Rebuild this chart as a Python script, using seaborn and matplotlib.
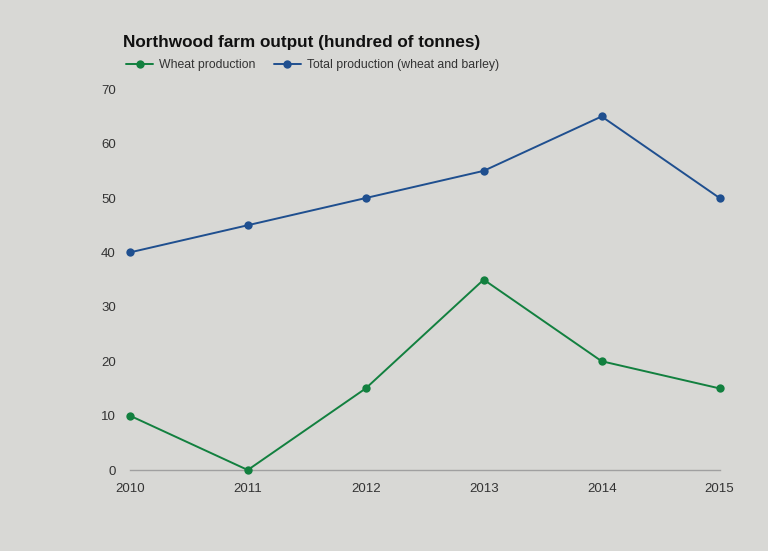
# northwood farm output chart - wheat vs total (wheat + barley)

import pandas as pd
import matplotlib.pyplot as plt
import seaborn as sns

years = [2010, 2011, 2012, 2013, 2014, 2015]
wheat = [10, 0, 15, 35, 20, 15]
total = [40, 45, 50, 55, 65, 50]
series_names = ["Wheat production", "Total production (wheat and barley)"]
y_ticks = [0, 10, 20, 30, 40, 50, 60, 70]

BG = "#d8d8d5"
COLOURS = {series_names[0]: "#12803f", series_names[1]: "#1f4f8f"}


def main():
    df = pd.DataFrame({
        "year": years * 2,
        "value": wheat + total,
        "series": [series_names[0]] * len(years) + [series_names[1]] * len(years),
    })

    sns.set_style("white")
    plt.rcParams["font.family"] = ["Liberation Sans", "DejaVu Sans"]

    fig = plt.figure(figsize=(7.68, 5.51), dpi=100, facecolor=BG)
    ax = fig.add_axes([0.169, 0.147, 0.768, 0.691], facecolor=BG)

    sns.lineplot(data=df, x="year", y="value", hue="series", palette=COLOURS,
                 marker="o", markersize=6, markeredgewidth=0, linewidth=1.4,
                 ax=ax, clip_on=False, zorder=5)

    ax.set_xlim(2010, 2015)
    ax.set_ylim(0, 70)
    ax.set_xticks(years)
    ax.set_yticks(y_ticks)
    ax.set_xlabel("")
    ax.set_ylabel("")
    ax.tick_params(axis="both", length=0, labelsize=9.5, colors="#333333")
    ax.tick_params(axis="y", pad=10)
    ax.tick_params(axis="x", pad=9)
    for side in ["top", "right", "left"]:
        ax.spines[side].set_visible(False)
    ax.spines["bottom"].set_color("#a0a0a0")
    ax.spines["bottom"].set_linewidth(1)
    ax.spines["bottom"].set_zorder(1)

    fig.text(0.160, 0.922, "Northwood farm output (hundred of tonnes)",
             fontsize=12.3, fontweight="bold", color="#111111", va="center")

    handles, labels = ax.get_legend_handles_labels()
    ax.legend(handles, labels, loc="center left", bbox_to_anchor=(0.150, 0.882),
              bbox_transform=fig.transFigure, ncol=2, frameon=False,
              fontsize=8.8, handlelength=2.2, handletextpad=0.5,
              columnspacing=1.5, labelcolor="#333333")

    fig.savefig("out.png", dpi=100, facecolor=BG)
    plt.close(fig)


if __name__ == "__main__":
    main()
